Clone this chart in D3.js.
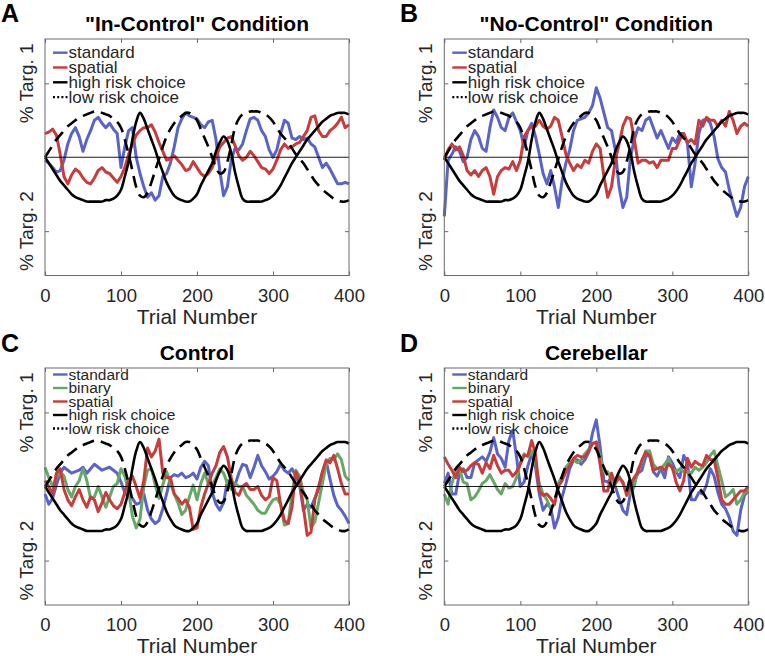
<!DOCTYPE html>
<html>
<head>
<meta charset="utf-8">
<script src="https://cdn.jsdelivr.net/npm/d3@7"></script>
<style>
  html, body { margin: 0; padding: 0; background: #fff; }
  svg { display: block; }
</style>
</head>
<body>
<svg id="chart" width="765" height="656"></svg>
<script>
// ---------------- DATA ----------------
const trials = [0,5,10,15,20,25,30,35,40,45,50,55,60,65,70,75,80,85,90,95,100,105,110,115,120,125,130,135,140,145,150,155,160,165,170,175,180,185,190,195,200,205,210,215,220,225,230,235,240,245,250,255,260,265,270,275,280,285,290,295,300,305,310,315,320,325,330,335,340,345,350,355,360,365,370,375,380,385,390,395,400];
const xTicks = [0, 100, 200, 300, 400];
const yTicks = [0.5, -0.5];
const yTickLabels = ["% Targ. 1", "% Targ. 2"];

const highRisk = [0.00,-0.04,-0.08,-0.12,-0.16,-0.19,-0.22,-0.25,-0.27,-0.28,-0.29,-0.30,-0.30,-0.30,-0.30,-0.30,-0.29,-0.29,-0.28,-0.26,-0.22,-0.13,-0.03,0.12,0.24,0.30,0.26,0.19,0.12,0.05,-0.03,-0.10,-0.17,-0.22,-0.26,-0.28,-0.29,-0.30,-0.30,-0.28,-0.25,-0.19,-0.14,-0.09,-0.04,0.04,0.10,0.14,0.11,0.03,-0.10,-0.20,-0.28,-0.30,-0.30,-0.30,-0.30,-0.30,-0.29,-0.28,-0.26,-0.23,-0.19,-0.14,-0.09,-0.04,0.00,0.04,0.08,0.12,0.15,0.18,0.21,0.24,0.26,0.28,0.29,0.30,0.30,0.30,0.29];
const lowRisk = [0.00,0.04,0.08,0.12,0.15,0.18,0.21,0.23,0.25,0.27,0.28,0.29,0.30,0.31,0.31,0.30,0.29,0.28,0.26,0.24,0.20,0.12,0.02,-0.09,-0.20,-0.26,-0.27,-0.24,-0.17,-0.09,-0.01,0.07,0.14,0.19,0.23,0.26,0.28,0.30,0.30,0.28,0.25,0.19,0.13,0.07,0.00,-0.07,-0.11,-0.10,-0.03,0.08,0.20,0.26,0.29,0.30,0.31,0.31,0.31,0.30,0.29,0.27,0.24,0.20,0.16,0.13,0.10,0.06,0.02,-0.01,-0.04,-0.08,-0.12,-0.16,-0.19,-0.22,-0.24,-0.26,-0.28,-0.29,-0.30,-0.30,-0.29];

const aStandard = [-0.02,-0.04,-0.07,-0.10,-0.09,-0.02,0.09,0.16,0.20,0.14,0.04,0.12,0.18,0.25,0.27,0.23,0.20,0.23,0.19,0.16,-0.07,0.07,0.18,0.20,0.00,-0.11,-0.20,-0.27,-0.24,-0.29,-0.26,-0.13,-0.11,-0.04,0.07,0.20,0.26,0.30,0.28,0.27,0.26,0.22,0.20,0.24,0.25,0.12,-0.09,-0.26,-0.20,-0.02,0.06,0.05,0.09,0.18,0.26,0.27,0.25,0.18,0.14,0.05,0.00,0.05,0.16,0.25,0.23,0.13,0.12,0.14,0.12,0.13,0.09,0.07,0.00,-0.07,-0.04,-0.08,-0.13,-0.18,-0.18,-0.17,-0.18];
const aSpatial = [0.16,0.17,0.19,0.15,0.02,-0.13,-0.18,-0.12,-0.08,-0.10,-0.14,-0.17,-0.18,-0.14,-0.09,-0.07,-0.10,-0.11,-0.14,-0.17,-0.13,-0.07,0.02,0.09,0.15,0.18,0.20,0.20,0.22,0.17,0.10,0.04,-0.02,-0.01,0.01,-0.02,-0.05,-0.09,-0.08,-0.03,-0.07,-0.11,-0.13,-0.11,-0.07,0.00,0.07,0.10,0.13,0.14,0.08,0.01,-0.02,0.00,0.04,0.01,-0.03,-0.07,-0.08,-0.11,-0.08,-0.02,0.05,0.09,0.06,0.07,0.09,0.10,0.14,0.18,0.27,0.28,0.18,0.14,0.14,0.18,0.20,0.23,0.27,0.20,0.22];

const bStandard = [-0.40,-0.02,0.02,0.07,0.04,-0.03,0.00,0.12,0.18,0.14,0.06,0.04,0.20,0.32,0.27,0.20,0.18,0.27,0.30,0.24,0.18,0.07,0.18,0.23,0.14,0.02,-0.11,-0.18,-0.09,-0.20,-0.34,-0.16,-0.04,0.05,0.18,0.25,0.26,0.27,0.30,0.35,0.47,0.40,0.30,0.20,0.18,0.05,-0.20,-0.34,-0.27,0.00,0.12,0.20,0.18,0.25,0.27,0.20,0.13,0.18,0.12,0.06,0.13,0.10,0.16,0.16,0.09,-0.20,-0.04,0.16,0.25,0.26,0.23,0.14,-0.01,-0.07,-0.10,-0.22,-0.31,-0.40,-0.34,-0.20,-0.13];
const bSpatial = [-0.02,0.05,0.09,0.05,0.07,0.01,-0.09,-0.12,-0.09,-0.13,-0.09,-0.07,-0.13,-0.25,-0.13,-0.09,-0.07,-0.08,-0.03,-0.09,-0.02,0.14,0.18,0.21,0.21,0.25,0.21,0.19,0.21,0.27,0.25,0.14,0.02,-0.04,-0.09,-0.05,-0.07,-0.02,-0.04,0.04,0.09,0.06,-0.13,-0.27,-0.20,-0.02,0.09,0.21,0.27,0.26,0.12,-0.04,-0.02,-0.02,-0.04,-0.03,-0.07,-0.02,-0.02,-0.02,0.06,0.06,0.12,0.16,0.10,0.12,0.09,0.25,0.21,0.27,0.25,0.25,0.21,0.25,0.21,0.31,0.25,0.16,0.21,0.23,0.21];

const cStandard = [-0.05,-0.12,-0.08,0.01,0.09,0.13,0.11,0.09,0.10,0.11,0.13,0.09,0.12,0.15,0.13,0.11,0.12,0.13,0.11,0.09,0.03,-0.04,-0.07,-0.08,-0.12,-0.11,-0.05,-0.16,-0.22,-0.25,-0.23,-0.15,-0.05,0.06,0.08,0.07,0.09,0.06,0.07,0.09,0.05,0.13,0.17,0.14,-0.04,-0.12,-0.16,-0.11,0.04,0.03,0.01,0.09,0.15,0.14,0.06,0.13,0.21,0.14,0.10,0.05,0.07,0.10,0.15,0.11,0.09,0.12,0.07,0.01,-0.16,-0.12,-0.14,-0.08,-0.02,0.09,0.17,0.05,-0.06,-0.13,-0.16,-0.20,-0.25];
const cBinary = [0.13,0.06,0.00,0.06,0.10,0.07,-0.02,-0.07,0.00,0.04,0.12,0.04,-0.08,-0.07,0.00,-0.07,-0.14,-0.07,0.00,0.02,0.12,0.07,-0.03,-0.20,-0.28,-0.22,0.00,0.11,0.12,0.01,-0.08,0.01,0.10,0.02,-0.05,-0.11,-0.19,-0.16,-0.07,0.01,-0.09,0.02,0.09,0.02,0.01,0.06,0.12,0.09,0.02,-0.02,0.02,0.00,0.00,-0.06,-0.09,-0.12,-0.16,-0.18,-0.18,-0.13,-0.09,-0.08,-0.12,-0.26,-0.25,-0.05,0.11,0.07,-0.04,-0.09,-0.28,-0.24,-0.11,0.02,0.15,0.19,0.18,0.22,0.18,0.07,0.04];
const cSpatial = [0.04,0.00,-0.05,0.09,0.12,-0.02,-0.09,-0.13,-0.07,-0.02,-0.09,-0.14,-0.07,-0.09,-0.17,-0.11,-0.04,-0.09,-0.13,-0.15,-0.12,-0.04,0.04,0.07,0.00,-0.08,0.04,0.26,0.20,0.24,0.32,0.09,0.06,0.06,-0.05,-0.08,-0.12,-0.09,-0.14,-0.29,-0.28,-0.14,-0.05,0.02,0.09,0.14,0.23,0.27,0.20,0.06,-0.04,-0.06,0.00,0.02,-0.02,-0.02,0.00,-0.06,-0.09,-0.07,0.06,0.04,-0.12,-0.23,-0.25,-0.14,0.10,0.04,-0.14,-0.33,-0.31,-0.09,0.00,0.10,0.18,0.16,0.21,0.12,0.02,-0.05,-0.05];

const dStandard = [0.02,0.09,-0.05,-0.05,0.09,0.12,0.06,0.06,0.16,0.18,0.20,0.17,0.23,0.33,0.22,0.19,0.13,0.31,0.38,0.20,0.00,0.03,0.14,0.22,0.13,-0.05,-0.16,-0.12,-0.14,-0.28,-0.21,-0.07,0.02,0.12,0.18,0.18,0.15,0.18,0.23,0.36,0.45,0.27,0.04,0.03,0.06,0.00,-0.08,-0.16,-0.19,-0.04,0.04,0.09,0.11,0.20,0.22,0.10,0.07,0.12,0.06,0.20,0.16,0.10,0.06,0.21,0.16,-0.09,-0.09,-0.04,-0.05,0.01,0.12,0.07,-0.04,-0.12,-0.15,-0.21,-0.30,-0.33,-0.16,-0.06,-0.03];
const dBinary = [-0.05,-0.12,0.02,0.11,0.12,0.03,0.02,-0.09,-0.07,-0.03,0.02,0.04,0.08,0.03,-0.02,-0.05,0.02,-0.01,0.00,0.06,0.16,0.22,0.20,0.24,0.16,0.02,-0.05,-0.09,-0.15,-0.12,0.02,0.07,0.13,0.16,0.18,0.16,0.18,0.22,0.25,0.29,0.30,0.20,0.10,0.10,0.04,0.02,0.07,0.02,-0.04,-0.05,0.00,0.12,0.16,0.24,0.24,0.15,0.12,0.12,0.15,0.19,0.12,0.10,0.12,0.10,0.10,0.09,0.13,0.11,0.13,0.16,0.21,0.24,0.14,0.04,-0.07,-0.05,-0.02,-0.12,-0.09,-0.04,-0.03];
const dSpatial = [0.20,0.15,0.11,0.06,0.13,0.10,0.11,0.14,0.16,0.15,0.09,0.16,0.12,0.21,0.14,0.09,0.11,0.11,0.07,0.10,0.15,0.21,0.21,0.31,0.22,-0.03,-0.06,-0.05,-0.08,-0.12,0.00,0.04,0.10,0.14,0.19,0.21,0.20,0.20,0.24,0.29,0.30,0.15,-0.03,-0.03,0.09,0.02,0.06,0.03,-0.06,0.02,0.06,0.10,0.18,0.23,0.21,0.11,0.12,0.13,0.11,0.15,0.13,0.03,-0.03,0.04,0.19,0.13,0.17,0.15,0.14,0.21,0.18,0.18,0.06,-0.09,-0.12,-0.12,-0.09,-0.06,-0.03,-0.03,0.00];

// ---------------- STYLE / LAYOUT ----------------
const FONT = "'Liberation Sans', Arial, Helvetica, sans-serif";
const TEXT = "#262626";
const COL = { standard: "#5a63c8", spatial: "#c83c3c", binary: "#67a867" };

const panels = [
  { letter: "A", lx: 1, ly: 22, title: "\"In-Control\" Condition", x0: 45, x1: 349, y0: 39, y1: 275.5,
    series: [{name: "standard", v: aStandard}, {name: "spatial", v: aSpatial}], legTop: 13.7, legGap: 14.8, legFont: 17 },
  { letter: "B", lx: 400, ly: 22, title: "\"No-Control\" Condition", x0: 444.3, x1: 748.3, y0: 39, y1: 275.5,
    series: [{name: "standard", v: bStandard}, {name: "spatial", v: bSpatial}], legTop: 13.7, legGap: 14.8, legFont: 17 },
  { letter: "C", lx: 1, ly: 352, title: "Control", x0: 45, x1: 349, y0: 368, y1: 605,
    series: [{name: "standard", v: cStandard}, {name: "binary", v: cBinary}, {name: "spatial", v: cSpatial}], legTop: 6.5, legGap: 13.5, legFont: 15.5 },
  { letter: "D", lx: 400, ly: 352, title: "Cerebellar", x0: 444.3, x1: 748.3, y0: 368, y1: 605,
    series: [{name: "standard", v: dStandard}, {name: "binary", v: dBinary}, {name: "spatial", v: dSpatial}], legTop: 6.5, legGap: 13.5, legFont: 15.5 }
];

const svg = d3.select("#chart");
svg.append("rect").attr("width", 765).attr("height", 656).attr("fill", "#fff");

panels.forEach(p => {
  const g = svg.append("g");
  const x = d3.scaleLinear().domain([0, 400]).range([p.x0, p.x1]);
  const y = d3.scaleLinear().domain([-0.8, 0.8]).range([p.y1, p.y0]);
  const toPts = vals => vals.map((v, i) => [trials[i], v]);

  // panel letter + title
  svg.append("text").attr("x", p.lx).attr("y", p.ly)
    .attr("font-family", FONT).attr("font-weight", "bold").attr("font-size", 25)
    .attr("fill", "#000").text(p.letter);
  svg.append("text").attr("x", (p.x0 + p.x1) / 2).attr("y", p.y0 - 8)
    .attr("text-anchor", "middle").attr("font-family", FONT).attr("font-weight", "bold")
    .attr("font-size", 21).attr("fill", "#000").text(p.title);

  // colored series
  const line = d3.line().x(d => x(d[0])).y(d => y(d[1])).curve(d3.curveLinear);
  p.series.forEach(s => {
    g.append("path").datum(toPts(s.v)).attr("d", line)
      .attr("fill", "none").attr("stroke", COL[s.name]).attr("stroke-width", 3)
      .attr("stroke-linejoin", "round");
  });

  // risk curves
  const smooth = d3.line().x(d => x(d[0])).y(d => y(d[1])).curve(d3.curveCatmullRom.alpha(0.5));
  g.append("path").datum(toPts(highRisk)).attr("d", smooth)
    .attr("fill", "none").attr("stroke", "#000").attr("stroke-width", 2.6);
  g.append("path").datum(toPts(lowRisk)).attr("d", smooth)
    .attr("fill", "none").attr("stroke", "#000").attr("stroke-width", 2.6)
    .attr("stroke-dasharray", "12,7");

  // zero line
  g.append("line").attr("x1", x(0)).attr("x2", x(400)).attr("y1", y(0)).attr("y2", y(0))
    .attr("stroke", "#000").attr("stroke-width", 0.9);

  // axes (ticks inward, box on)
  const axB = d3.axisBottom(x).tickValues(xTicks).tickSizeInner(-4).tickSizeOuter(0).tickPadding(13);
  const gb = svg.append("g").attr("transform", `translate(0,${p.y1})`).call(axB);
  gb.select(".domain").remove();
  gb.selectAll(".tick line").attr("stroke", "#6a6a6a");
  gb.selectAll(".tick text").attr("font-family", FONT).attr("font-size", 18.5).attr("fill", TEXT);

  const axT = d3.axisTop(x).tickValues(xTicks).tickSizeInner(-4).tickSizeOuter(0).tickFormat("");
  const gt = svg.append("g").attr("transform", `translate(0,${p.y0})`).call(axT);
  gt.select(".domain").remove();
  gt.selectAll(".tick line").attr("stroke", "#6a6a6a");

  const axL = d3.axisLeft(y).tickValues(yTicks).tickSizeInner(-4).tickSizeOuter(0).tickFormat("");
  const gl = svg.append("g").attr("transform", `translate(${p.x0},0)`).call(axL);
  gl.select(".domain").remove();
  gl.selectAll(".tick line").attr("stroke", "#6a6a6a");

  const axR = d3.axisRight(y).tickValues(yTicks).tickSizeInner(-4).tickSizeOuter(0).tickFormat("");
  const gr = svg.append("g").attr("transform", `translate(${p.x1},0)`).call(axR);
  gr.select(".domain").remove();
  gr.selectAll(".tick line").attr("stroke", "#6a6a6a");

  // y tick labels (rotated)
  yTicks.forEach((t, i) => {
    svg.append("text")
      .attr("transform", `translate(${p.x0 - 19},${y(t)}) rotate(-90)`)
      .attr("text-anchor", "middle").attr("dy", "0.35em")
      .attr("font-family", FONT).attr("font-size", 19).attr("fill", TEXT)
      .text(yTickLabels[i]);
  });

  // frame
  svg.append("rect").attr("x", p.x0).attr("y", p.y0)
    .attr("width", p.x1 - p.x0).attr("height", p.y1 - p.y0)
    .attr("fill", "none").attr("stroke", "#6a6a6a").attr("stroke-width", 1);

  // x label
  svg.append("text").attr("x", (p.x0 + p.x1) / 2).attr("y", p.y1 + 48)
    .attr("text-anchor", "middle").attr("font-family", FONT).attr("font-size", 21)
    .attr("fill", TEXT).text("Trial Number");

  // legend
  const legItems = p.series.map(s => ({ label: s.name, color: COL[s.name], dash: null }))
    .concat([{ label: "high risk choice", color: "#000", dash: null },
             { label: "low risk choice", color: "#000", dash: "2,2.2" }]);
  legItems.forEach((it, i) => {
    const ly = p.y0 + p.legTop + i * p.legGap;
    svg.append("line").attr("x1", p.x0 + 8).attr("x2", p.x0 + 22.5)
      .attr("y1", ly).attr("y2", ly).attr("stroke", it.color).attr("stroke-width", 2.4)
      .attr("stroke-dasharray", it.dash);
    svg.append("text").attr("x", p.x0 + 23.5).attr("y", ly + p.legFont * 0.33)
      .attr("font-family", FONT).attr("font-size", p.legFont).attr("fill", TEXT).text(it.label);
  });
});
</script>
</body>
</html>
